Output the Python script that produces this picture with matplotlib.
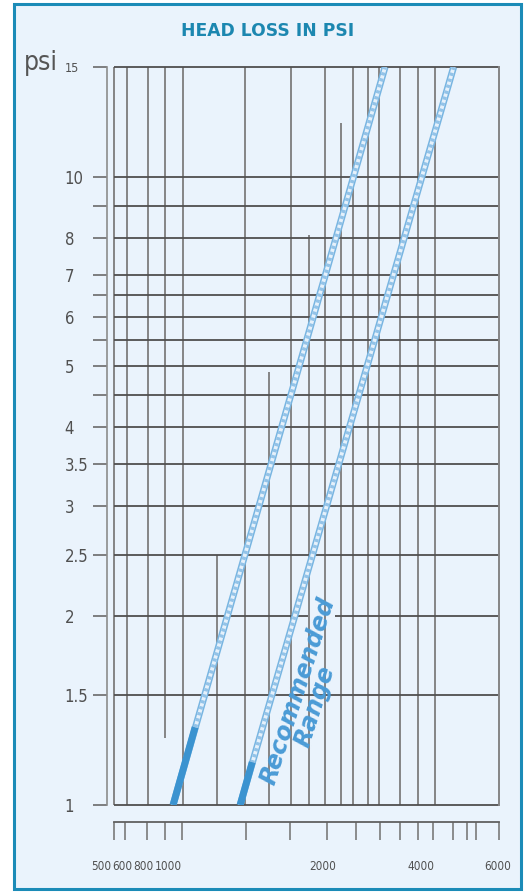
import matplotlib
matplotlib.use('Agg')
import matplotlib.pyplot as plt
import matplotlib.ticker as mticker
import matplotlib.transforms as mtrans
from matplotlib.patches import Rectangle

# ---------------- data ----------------
psi_tick_values = [1, 1.5, 2, 2.5, 3, 3.5, 4, 4.5, 5, 5.5, 6, 6.5, 7, 8, 9, 10, 15]
psi_tick_labels = ['1', '1.5', '2', '2.5', '3', '3.5', '4', '', '5', '', '6', '', '7', '8', '', '10', '15']

# vertical grid lines (flow, gpm) running the full height
flow_full_lines = [500, 545, 625, 787, 1180, 1600, 2000, 2410, 2660, 2860, 3280, 3700, 4130]
# vertical lines hanging from the top down to a psi value
flow_top_lines = [700]
flow_top_lines_from = [1.28]
# vertical lines standing from the bottom up to a psi value
flow_bottom_lines = [985, 1390, 1800, 2220]
flow_bottom_lines_to = [2.5, 4.9, 8.1, 12.2]
# gap in the 2 psi line
gap_psi = 2
gap_flow = [1795, 2136]

# flow scale strip
strip_ticks = [500, 537, 621, 700, 781, 1190, 1591, 2030, 2456, 2877, 3284, 3697, 4090,
               4639, 5101, 5422, 6300]
strip_labels = ['500', '600', '800', '1000', '2000', '4000', '6000']
strip_label_at = [459, 527, 605, 713, 1974, 3770, 6235]

# recommended range boundary lines
band1_flow = [737, 2976]
band1_psi = [1, 15]
band1_solid_flow = [737, 852]
band1_solid_psi = [1, 1.33]
band2_flow = [1146, 4674]
band2_psi = [1, 15]
band2_solid_flow = [1146, 1241]
band2_solid_psi = [1, 1.17]

# ---------------- style ----------------
cond = dict(family='DejaVu Sans', stretch='condensed')
W, H = 527, 892
fig = plt.figure(figsize=(W / 100, H / 100), dpi=100, facecolor='white')

fig.patches.append(Rectangle((14 / W, 1 - 889 / H), (521 - 14) / W, (889 - 4) / H,
                             transform=fig.transFigure, facecolor='#eaf3fc',
                             edgecolor='#1b8bb7', lw=2.2, zorder=-10))

fig.text(268 / W, 1 - 31 / H, 'HEAD LOSS IN PSI', ha='center', va='center',
         color='#1c87b0', fontweight='bold', fontsize=12.3, family='DejaVu Sans')

ax = fig.add_axes([107 / W, 1 - 805 / H, (499 - 107) / W, (805 - 67) / H])
ax.set_facecolor('none')
ax.set_xscale('log')
ax.set_yscale('log')
xlim = (477, 6300)
ax.set_xlim(*xlim)
ax.set_ylim(1, 15)

hcol = '#4f4f4f'
vcol = '#858585'
for p in psi_tick_values:
    if p == gap_psi:
        ax.hlines(p, 500, gap_flow[0], colors=hcol, lw=1.3, clip_on=False, zorder=2)
        ax.hlines(p, gap_flow[1], xlim[1], colors=hcol, lw=1.3, clip_on=False, zorder=2)
    else:
        ax.hlines(p, 500, xlim[1], colors=hcol, lw=1.3, clip_on=False, zorder=2)

ax.vlines(flow_full_lines, 1, 15, colors=vcol, lw=1.4, zorder=1)
ax.vlines(flow_top_lines, flow_top_lines_from, 15, colors=vcol, lw=1.4, zorder=1)
ax.vlines(flow_bottom_lines, 1, flow_bottom_lines_to, colors=vcol, lw=1.4, zorder=1)

for f, p, sf, sp in [(band1_flow, band1_psi, band1_solid_flow, band1_solid_psi),
                     (band2_flow, band2_psi, band2_solid_flow, band2_solid_psi)]:
    ax.plot(f, p, color='#78b5e1', lw=5.0, solid_capstyle='butt', zorder=5)
    ax.plot(f, p, color='#e6f1fb', lw=2.8, solid_capstyle='butt', zorder=6)
    ax.plot(f, p, color='#93c3e8', lw=2.8, dashes=(0.8, 0.8), zorder=7)
    ax.plot(sf, sp, color='#3b93d0', lw=5.0, solid_capstyle='butt', zorder=8)

ax.text(0.487, 0.155, 'Recommended', transform=ax.transAxes, rotation=72,
        rotation_mode='anchor', ha='center', va='center', color='#4a9bd6',
        fontsize=17, fontweight='bold', style='italic', family='DejaVu Sans', zorder=9)
ax.text(0.530, 0.133, 'Range', transform=ax.transAxes, rotation=72,
        rotation_mode='anchor', ha='center', va='center', color='#4a9bd6',
        fontsize=17, fontweight='bold', style='italic', family='DejaVu Sans', zorder=9)

for s in ['top', 'bottom']:
    ax.spines[s].set_visible(False)
ax.spines['left'].set_color('#8c8c8c')
ax.spines['left'].set_linewidth(1.2)
ax.spines['right'].set_color(vcol)
ax.spines['right'].set_linewidth(1.4)

ax.xaxis.set_major_locator(mticker.NullLocator())
ax.xaxis.set_minor_locator(mticker.NullLocator())
ax.yaxis.set_major_locator(mticker.FixedLocator(psi_tick_values))
ax.yaxis.set_major_formatter(mticker.FixedFormatter(psi_tick_labels))
ax.yaxis.set_minor_locator(mticker.NullLocator())
ax.tick_params(axis='y', which='major', direction='out', length=10, width=1.2,
               color='#6a6a6a', pad=20.5, labelsize=12, labelcolor='#505050')
for lab in ax.get_yticklabels():
    lab.set_ha('left')
    lab.set_family('DejaVu Sans')
    lab.set_stretch('condensed')
    if lab.get_text() == '15':
        lab.set_fontsize(9)

fig.text(24 / W, 1 - 63 / H, 'psi', ha='left', va='center', fontsize=19,
         color='#555555', **cond)

# flow scale strip
ax2 = fig.add_axes([107 / W, 1 - 822 / H, (499 - 107) / W, 0.0005])
ax2.set_facecolor('none')
ax2.set_xscale('log')
ax2.set_xlim(*xlim)
ax2.set_yticks([])
for s in ['top', 'left', 'right']:
    ax2.spines[s].set_visible(False)
ax2.spines['bottom'].set_bounds(500, xlim[1])
ax2.spines['bottom'].set_color('#606060')
ax2.spines['bottom'].set_linewidth(1.3)
ax2.xaxis.set_major_locator(mticker.NullLocator())
ax2.xaxis.set_minor_locator(mticker.FixedLocator(strip_ticks))
ax2.xaxis.set_minor_formatter(mticker.NullFormatter())
ax2.tick_params(axis='x', which='minor', direction='out', length=13, width=1.2, color='#7a7a7a')
tr = mtrans.blended_transform_factory(ax2.transData, fig.transFigure)
for x, t in zip(strip_label_at, strip_labels):
    ax2.text(x, 1 - 867 / H, t, transform=tr, ha='center', va='center', fontsize=8.5,
             color='#505050', clip_on=False, **cond)

fig.savefig('out.png', dpi=100, facecolor='white')
